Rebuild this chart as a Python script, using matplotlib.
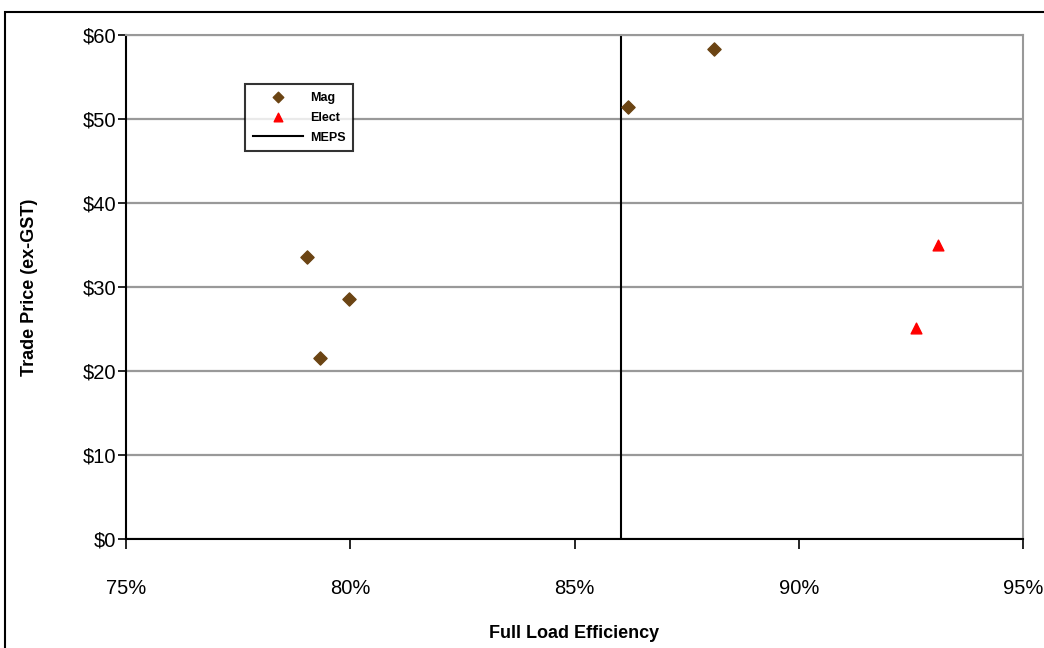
import matplotlib
matplotlib.use("Agg")
import matplotlib.pyplot as plt
from matplotlib.patches import Rectangle
from matplotlib.ticker import FuncFormatter, FixedLocator

plt.rcParams['font.family'] = ['Liberation Sans', 'DejaVu Sans']

mag_eff = [79.04, 79.97, 79.33, 86.19, 88.11]
mag_price = [33.6, 28.6, 21.5, 51.4, 58.3]
elect_eff = [93.1, 92.61]
elect_price = [35.0, 25.1]
meps_eff = 86.04
x_ticks = [75, 80, 85, 90, 95]
y_ticks = [0, 10, 20, 30, 40, 50, 60]

W, H = 1044, 648
fig = plt.figure(figsize=(W / 100, H / 100), dpi=100)
ax = fig.add_axes([126 / W, 1 - 539 / H, (1023 - 126) / W, (539 - 35) / H])

# outer frame
fig.add_artist(Rectangle((5 / W, -0.1), 1.2, 1 - 12 / H + 0.1, transform=fig.transFigure,
                         fill=False, edgecolor='black', linewidth=1.5))

ax.set_xlim(75, 95)
ax.set_ylim(0, 60)
ax.yaxis.set_major_locator(FixedLocator(y_ticks))
ax.xaxis.set_major_locator(FixedLocator(x_ticks))
ax.yaxis.set_major_formatter(FuncFormatter(lambda v, p: f"${v:.0f}"))
ax.xaxis.set_major_formatter(FuncFormatter(lambda v, p: f"{v:.0f}%"))
ax.grid(axis='y', color='#999999', linewidth=1.6)
ax.set_axisbelow(True)
for s in ['top', 'right']:
    ax.spines[s].set_color('#999999')
    ax.spines[s].set_linewidth(1.5)
for s in ['left', 'bottom']:
    ax.spines[s].set_color('black')
    ax.spines[s].set_linewidth(1.5)
ax.tick_params(axis='y', direction='out', length=6, width=1.2, labelsize=14.5, pad=1)
ax.tick_params(axis='x', direction='out', length=7, width=1.2, labelsize=14.5, pad=22)

ax.scatter(mag_eff, mag_price, marker='D', s=45, color='#6B4413', zorder=3, label='Mag')
ax.scatter(elect_eff, elect_price, marker='^', s=60, color='#FF0000', zorder=3, label='Elect')
ax.axvline(meps_eff, color='black', linewidth=1.5, zorder=2, label='MEPS')

ax.set_ylabel('Trade Price (ex-GST)', fontsize=13, fontweight='bold', labelpad=32)
ax.set_xlabel('Full Load Efficiency', fontsize=13, fontweight='bold', labelpad=19)

leg = ax.legend(loc='upper left', bbox_to_anchor=((245 - 126) / (1023 - 126), 1 - (84 - 35) / (539 - 35)),
                frameon=True, fancybox=False, edgecolor='black',
                prop={'weight': 'bold', 'size': 9}, handlelength=4.0, handletextpad=0.6,
                borderpad=0.6, borderaxespad=0, labelspacing=0.65, markerscale=0.8)
leg.get_frame().set_linewidth(1.5)

fig.savefig('out.png', dpi=100)
